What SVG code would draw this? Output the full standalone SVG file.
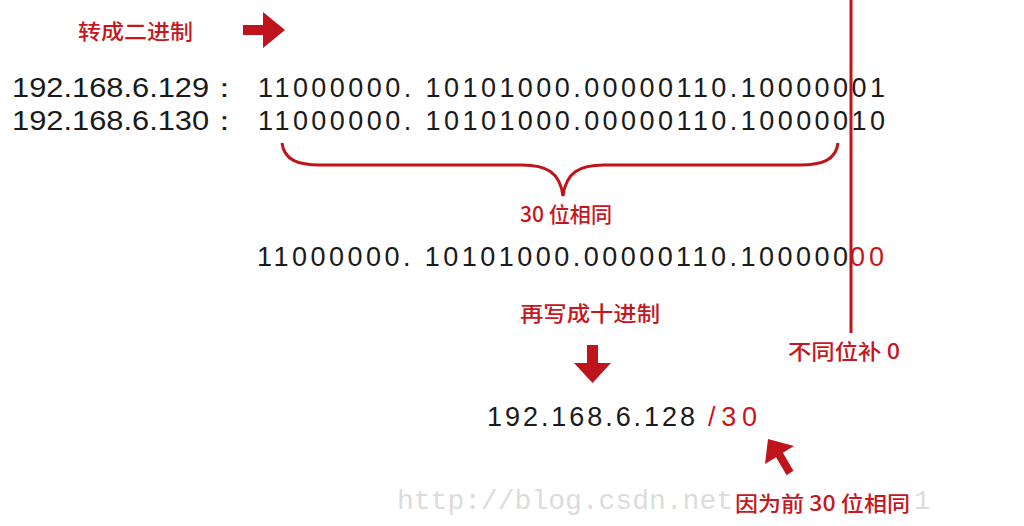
<svg xmlns="http://www.w3.org/2000/svg" width="1024" height="526" viewBox="0 0 1024 526">
<style>
.num{font-family:"Liberation Sans","Arial",sans-serif;font-size:27px;fill:#1a1a1a}
.red{fill:#c8161e}
.lbl{font-family:"Noto Sans CJK SC","Noto Sans",sans-serif;font-size:21px;font-weight:500;fill:#c8161e}
.wm{font-family:"Liberation Mono","DejaVu Sans Mono",monospace;font-size:27px;fill:#dcdcdc}
.ln{stroke:#c0141c;fill:none}
.ar{fill:#c0141c}
</style>
<rect width="1024" height="526" fill="#ffffff"/>
<g id="watermark">
<text class="wm" x="397" y="509" textLength="336" lengthAdjust="spacingAndGlyphs">http://blog.csdn.net</text>
<text class="wm" x="914" y="509">1</text>
</g>
<g id="title"><text class="lbl" x="78" y="39" font-size="22" textLength="115" lengthAdjust="spacingAndGlyphs">转成二进制</text></g>
<g id="line1">
<text class="num" x="12" y="97" textLength="228" lengthAdjust="spacingAndGlyphs">192.168.6.129：</text>
<text class="num" x="258" y="97" textLength="627" lengthAdjust="spacing">11000000. 10101000.00000110.10000001</text>
</g>
<g id="line2">
<text class="num" x="12" y="130" textLength="228" lengthAdjust="spacingAndGlyphs">192.168.6.130：</text>
<text class="num" x="258" y="130" textLength="627" lengthAdjust="spacing">11000000. 10101000.00000110.10000010</text>
</g>
<g id="label30"><text class="lbl" x="520" y="222" textLength="92" lengthAdjust="spacingAndGlyphs">30 位相同</text></g>
<g id="line3">
<text class="num" x="257" y="266" textLength="591" lengthAdjust="spacing">11000000. 10101000.00000110.100000</text>
<text class="num red" x="850" y="266" textLength="34" lengthAdjust="spacing">00</text>
</g>
<g id="label-decimal"><text class="lbl" x="520" y="321" textLength="140" lengthAdjust="spacingAndGlyphs">再写成十进制</text></g>
<g id="label-pad"><text class="lbl" x="788" y="359" textLength="112" lengthAdjust="spacingAndGlyphs">不同位补 0</text></g>
<g id="result">
<text class="num" x="487" y="426" textLength="208" lengthAdjust="spacing">192.168.6.128</text>
<text class="num red" x="708" y="426" textLength="49" lengthAdjust="spacing">/30</text>
</g>
<g id="label-reason">
<text class="lbl" x="735" y="511" textLength="175" lengthAdjust="spacingAndGlyphs">因为前 30 位相同</text>
</g>
<g id="connectors">
<polygon class="ar" points="243,25 263,25 263,12 285,30 263,48 263,35 243,35"/>
<path class="ln" stroke-width="3" d="M282,143 C284,160 298,165 320,165 L522,165 C546,165 560,172 563,196 C566,172 580,165 604,165 L800,165 C822,165 836,160 838,143"/>
<line class="ln" x1="851" y1="0" x2="851" y2="333" stroke-width="3"/>
<polygon class="ar" points="587,345 598,345 598,363 611,363 592.5,383 574,363 587,363"/>
<polygon class="ar" points="768,439 794,446 782.9,452.8 793.4,470.8 786.6,475.2 776.1,457.2 765,464"/>
</g>
</svg>
